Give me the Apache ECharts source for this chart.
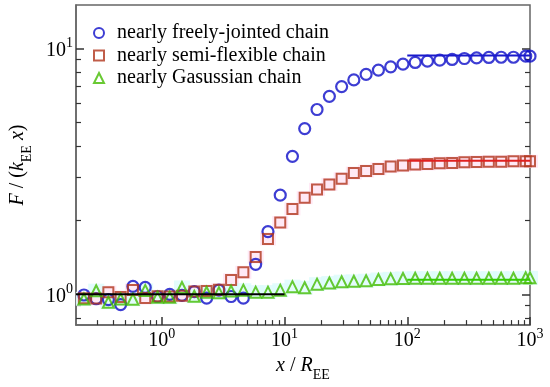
<!DOCTYPE html>
<html><head><meta charset="utf-8">
<script src="https://cdn.jsdelivr.net/npm/echarts@6/dist/echarts.min.js"></script>
<style>html,body{margin:0;padding:0;background:#fff}#c{width:550px;height:387px}</style>
</head><body><div id="c"></div>
<script>
// x / R_EE sample positions
const xValues = [0.232, 0.292, 0.367, 0.462, 0.582, 0.733, 0.923, 1.16, 1.46, 1.84,
  2.32, 2.92, 3.67, 4.62, 5.82, 7.33, 9.23, 11.6, 14.6, 18.4,
  23.2, 29.2, 36.7, 46.2, 58.2, 73.3, 92.3, 116, 146, 184,
  232, 292, 367, 462, 582, 733, 923, 1000];
const freelyJointed = [0.994, 0.96, 0.952, 0.909, 1.077, 1.067, 0.98, 1.0, 0.99, 1.026,
  0.966, 1.04, 0.98, 0.966, 1.325, 1.80, 2.53, 3.64, 4.72, 5.64,
  6.38, 6.99, 7.44, 7.84, 8.16, 8.41, 8.63, 8.76, 8.87, 8.95,
  9.01, 9.09, 9.14, 9.18, 9.20, 9.20, 9.29, 9.29];
const semiFlexible = [0.964, 0.961, 1.021, 0.975, 1.041, 0.966, 0.982, 0.98, 0.988, 1.026,
  1.031, 1.043, 1.145, 1.229, 1.418, 1.679, 1.959, 2.225, 2.471, 2.671,
  2.799, 2.951, 3.111, 3.169, 3.236, 3.306, 3.337, 3.368, 3.389, 3.411,
  3.421, 3.443, 3.453, 3.462, 3.462, 3.475, 3.475, 3.475];
const gaussian = [0.957, 1.035, 0.929, 0.957, 0.955, 1.038, 0.973, 0.973, 1.067, 0.983,
  1.019, 1.016, 1.031, 1.04, 1.021, 1.021, 1.04, 1.075, 1.064, 1.100,
  1.112, 1.126, 1.130, 1.136, 1.149, 1.156, 1.160, 1.163, 1.163, 1.163,
  1.163, 1.163, 1.163, 1.163, 1.163, 1.163, 1.167, 1.167];
// reference lines
const lowLimitX = [0.2, 10], lowLimitY = [1, 1];
const fjLimitX = [100, 1000], fjLimitY = [9.35, 9.35];
const sfLimitX = [100, 1000], sfLimitY = [3.49, 3.49];
const gaLimitX = [100, 1000], gaLimitY = [1.146, 1.146];
// ticks
const xMajorTicks = [1, 10, 100, 1000];
const xMinorTicks = [0.3, 0.4, 0.5, 0.6, 0.7, 0.8, 0.9, 2, 3, 4, 5, 6, 7, 8, 9,
  20, 30, 40, 50, 60, 70, 80, 90, 200, 300, 400, 500, 600, 700, 800, 900];
const yMajorTicks = [1, 10];
const yMinorTicks = [0.8, 0.9, 2, 3, 4, 5, 6, 7, 8, 9];
const seriesNames = ['nearly freely-jointed chain', 'nearly semi-flexible chain', 'nearly Gasussian chain'];

const FONT = 'Liberation Serif';
const pair = (xs, ys) => xs.map((x, i) => [x, ys[i]]);
const supLabel = v => '{b|10}{s|' + Math.round(Math.log10(v)) + '}';
const labRich = {
  b: {fontSize: 20, fontFamily: FONT, color: '#000', lineHeight: 24, verticalAlign: 'bottom'},
  s: {fontSize: 14, fontFamily: FONT, color: '#000', lineHeight: 14, verticalAlign: 'top'}
};
const nameRich = {
  n: {fontSize: 20, fontFamily: FONT, color: '#000', lineHeight: 26, verticalAlign: 'top'},
  i: {fontSize: 20, fontFamily: FONT, fontStyle: 'italic', color: '#000', lineHeight: 26, verticalAlign: 'top'},
  sub: {fontSize: 14, fontFamily: FONT, color: '#000', lineHeight: 16, verticalAlign: 'bottom'}
};
const X_MIN = 0.2, X_MAX = 1000, Y_MIN = 0.75, Y_MAX = 15;
const lineCol = '#666', tickCol = '#333';

function logAxis(opts, isX) {
  return Object.assign({
    type: 'log', logBase: 10,
    min: isX ? X_MIN : Y_MIN, max: isX ? X_MAX : Y_MAX,
    splitLine: {show: false},
    axisLine: {show: false},
    axisLabel: {show: false},
    axisTick: {show: false}
  }, opts);
}

const blue = '#0c0cc8', red = '#b0341c', green = '#44bb00';

const option = {
  animation: false,
  backgroundColor: '#fff',
  grid: {left: 70, right: 20, top: 5, bottom: 60, show: true, borderColor: lineCol, borderWidth: 1.5, backgroundColor: 'transparent'},
  legend: {
    data: seriesNames,
    orient: 'vertical', left: 88, top: 18,
    itemWidth: 10, itemHeight: 10, itemGap: 2.5,
    textStyle: {fontFamily: FONT, fontSize: 20, color: '#000', padding: [0, 0, 0, 8]}
  },
  xAxis: [
    logAxis({
      position: 'bottom',
      axisLine: {show: true, lineStyle: {color: lineCol, width: 1.5}},
      axisTick: {show: true, inside: true, length: 8, customValues: xMajorTicks, lineStyle: {color: tickCol, width: 1.5}},
      axisLabel: {show: true, customValues: xMajorTicks, margin: 2, formatter: supLabel, rich: labRich},
      name: '{i|x}{n| / }{i|R}{sub|EE}', nameLocation: 'middle', nameGap: 26,
      nameTextStyle: {rich: nameRich, fontFamily: FONT, fontSize: 20}
    }, true),
    logAxis({
      position: 'bottom', offset: 0,
      axisTick: {show: true, inside: true, length: 5, customValues: xMinorTicks, lineStyle: {color: tickCol, width: 1.2}}
    }, true)
  ],
  yAxis: [
    logAxis({
      position: 'left',
      axisLine: {show: true, lineStyle: {color: lineCol, width: 1.5}},
      axisTick: {show: true, inside: true, length: 8, customValues: yMajorTicks, lineStyle: {color: tickCol, width: 1.5}},
      axisLabel: {show: true, customValues: yMajorTicks, margin: 3, formatter: supLabel, rich: labRich},
      name: '{i|F}{n| / (}{i|k}{sub|EE}{n| }{i|x}{n|)}', nameLocation: 'middle', nameGap: 42, nameRotate: 90,
      nameTextStyle: {rich: nameRich, fontFamily: FONT, fontSize: 20}
    }, false),
    logAxis({
      position: 'left', offset: 0,
      axisTick: {show: true, inside: true, length: 5, customValues: yMinorTicks, lineStyle: {color: tickCol, width: 1.2}}
    }, false),
    logAxis({
      position: 'right', offset: 0,
      axisTick: {show: true, inside: true, length: 8, customValues: yMajorTicks, lineStyle: {color: tickCol, width: 1.5}}
    }, false),
    logAxis({
      position: 'right', offset: 0,
      axisTick: {show: true, inside: true, length: 5, customValues: yMinorTicks, lineStyle: {color: tickCol, width: 1.2}}
    }, false)
  ],
  series: [
    {type: 'scatter', name: 'halo-sf', silent: true, symbol: 'rect', symbolSize: [16, 13], z: 1,
      itemStyle: {color: '#ffe2f3'}, data: pair(xValues, semiFlexible)},
    {type: 'scatter', name: 'halo-ga', silent: true, symbol: 'rect', symbolSize: [16, 14], z: 1,
      itemStyle: {color: '#dcfbfb'}, data: pair(xValues, gaussian)},
    {type: 'scatter', name: seriesNames[0], symbol: 'circle', symbolSize: 11, z: 3,
      itemStyle: {color: 'rgba(255,255,255,0)', borderColor: blue, borderWidth: 2.2}, data: pair(xValues, freelyJointed)},
    {type: 'scatter', name: seriesNames[1], symbol: 'rect', symbolSize: 10, z: 3,
      itemStyle: {color: 'rgba(255,255,255,0)', borderColor: red, borderWidth: 2}, data: pair(xValues, semiFlexible)},
    {type: 'scatter', name: seriesNames[2], symbol: 'triangle', symbolSize: 11, z: 3,
      itemStyle: {color: 'rgba(255,255,255,0)', borderColor: green, borderWidth: 2}, data: pair(xValues, gaussian)},
    {type: 'line', name: 'low', symbol: 'none', silent: true, z: 4, lineStyle: {color: '#000', width: 2}, data: pair(lowLimitX, lowLimitY)},
    {type: 'line', name: 'fj', symbol: 'none', silent: true, z: 4, lineStyle: {color: '#1a1acc', width: 2}, data: pair(fjLimitX, fjLimitY)},
    {type: 'line', name: 'sf', symbol: 'none', silent: true, z: 4, lineStyle: {color: '#e02020', width: 2}, data: pair(sfLimitX, sfLimitY)},
    {type: 'line', name: 'ga', symbol: 'none', silent: true, z: 4, lineStyle: {color: '#33cc00', width: 2}, data: pair(gaLimitX, gaLimitY)}
  ]
};
const chart = echarts.init(document.getElementById('c'), null, {renderer: 'canvas'});
chart.setOption(option);
</script>
</body></html>
